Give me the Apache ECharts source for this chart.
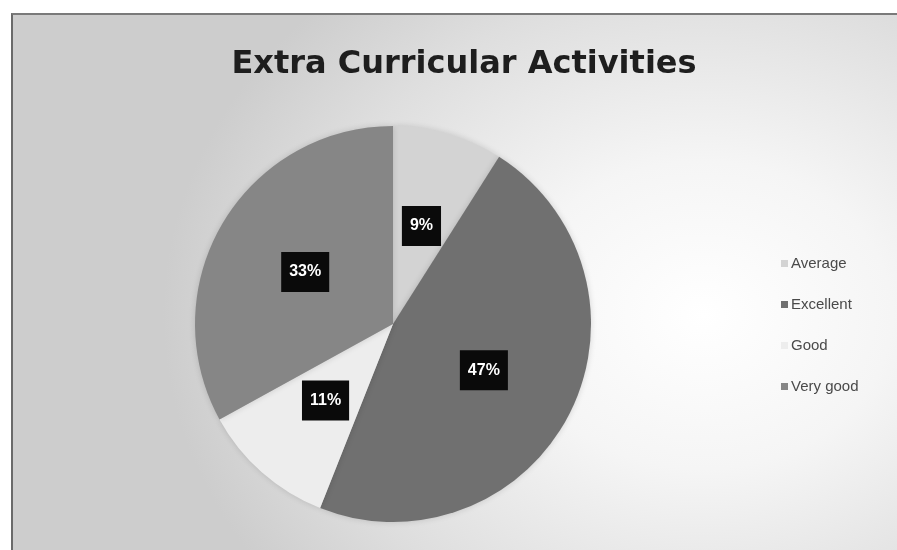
<!DOCTYPE html>
<html>
<head>
<meta charset="utf-8">
<script src="https://cdn.jsdelivr.net/npm/echarts@6/dist/echarts.min.js"></script>
<style>
  html, body { margin: 0; padding: 0; background: #ffffff; width: 897px; height: 550px; overflow: hidden; }
  #frame {
    position: absolute; left: 11px; top: 13px; width: 886px; height: 537px;
    border-left: 2px solid #6a6a6a; border-top: 2px solid #7a7a7a;
    background: radial-gradient(ellipse 540px 440px at 690px 300px, #ffffff 0%, #f5f5f5 35%, #dedede 75%, #cdcdcd 100%);
  }
  #chart { position: absolute; left: 0; top: 0; width: 897px; height: 550px; }
</style>
</head>
<body>
<div id="frame"></div>
<div id="chart"></div>
<script>
const titleText = 'Extra Curricular Activities';
const categories = ['Average', 'Excellent', 'Good', 'Very good'];
const percentValues = [9, 47, 11, 33];
const sliceColors = ['#d3d3d3', '#707070', '#ededed', '#868686'];

const chart = echarts.init(document.getElementById('chart'), null, { renderer: 'canvas' });
chart.setOption({
  backgroundColor: 'transparent',
  animation: false,
  title: {
    text: titleText,
    left: 459, top: 44, textAlign: 'center',
    textStyle: { fontFamily: 'DejaVu Sans', fontWeight: 'bold', fontSize: 32, color: '#1e1e1e' }
  },
  legend: {
    orient: 'vertical',
    left: 776, top: 251,
    itemWidth: 7, itemHeight: 7, itemGap: 26,
    icon: 'rect',
    data: categories,
    textStyle: { fontFamily: 'Liberation Sans', fontSize: 15, color: '#4a4a4a', padding: [0, 0, 0, -2] }
  },
  series: [{
    type: 'pie',
    center: [393, 324],
    radius: [0, 198],
    startAngle: 90,
    clockwise: true,
    silent: true,
    data: categories.map((c, i) => ({ name: c, value: percentValues[i], itemStyle: { color: sliceColors[i] } })),
    label: {
      show: true,
      position: 'inside',
      formatter: p => p.value + '%',
      backgroundColor: '#0a0a0a',
      color: '#ffffff',
      fontFamily: 'Liberation Sans',
      fontWeight: 'bold',
      fontSize: 16,
      padding: [12, 8]
    },
    labelLine: { show: false },
    itemStyle: { borderWidth: 0, shadowBlur: 6, shadowColor: 'rgba(0,0,0,0.15)' }
  }]
});
</script>
</body>
</html>
